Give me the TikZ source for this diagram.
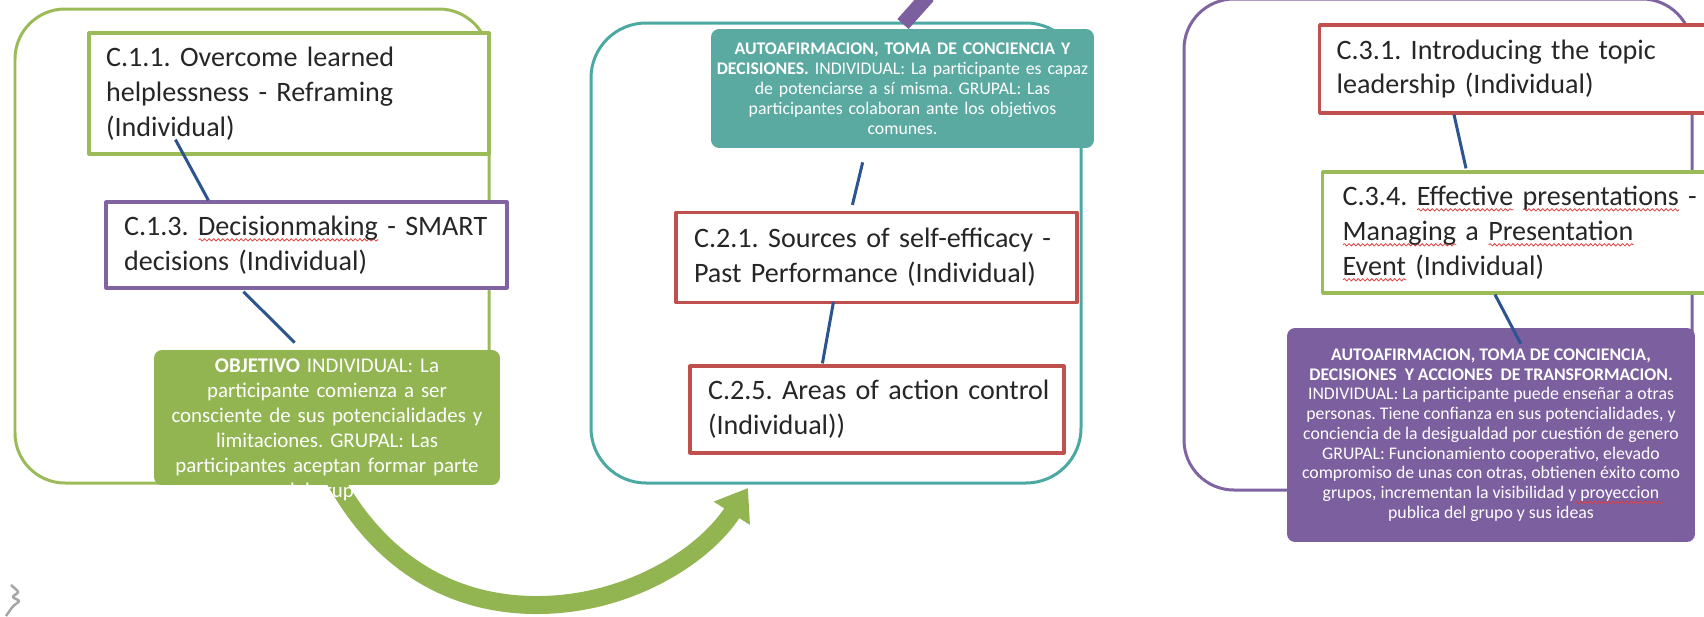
\documentclass[tikz,border=0pt]{standalone}
\usepackage{fontspec}
\setmainfont{Carlito}
\usetikzlibrary{arrows.meta, decorations.pathmorphing}
\frenchspacing

\definecolor{grnline}{HTML}{9BBB59}
\definecolor{grnfill}{HTML}{92B552}
\definecolor{tealline}{HTML}{4BA9A2}
\definecolor{tealfill}{HTML}{5AAAA1}
\definecolor{purpline}{HTML}{8064A2}
\definecolor{purpfill}{HTML}{7C5F9F}
\definecolor{redline}{HTML}{C0504D}
\definecolor{linkblue}{HTML}{2C5490}
\definecolor{inkgray}{HTML}{262626}
\definecolor{spellred}{HTML}{E04040}

% red spell-check wave under a word
\newsavebox{\spellbox}
\newcommand{\spellwave}[1]{\sbox{\spellbox}{#1}\leavevmode\rlap{\smash{\raisebox{-3.5pt}{\tikz\draw[spellred, fill=none, line width=0.45pt,
    decorate, decoration={snake, amplitude=0.7pt, segment length=2.6pt}] (0pt,0pt) -- (\wd\spellbox,0pt);}}}#1}

\begin{document}
\begin{tikzpicture}[
            x = 0.02cm, y = -0.02cm, % one unit = one pixel, y downwards
            > = {Triangle[width=0.82cm, length=0.6cm]}, % arrow head style
            line join = round
        ]

        \tikzstyle{frame}=[
            line width = 0.06cm,
            rounded corners = 1cm
        ]
        \tikzstyle{cbox}=[
            draw,
            fill = white,
            line width = 0.065cm,
            text = inkgray,
            align = left,
            inner ysep = 0pt,
            font = \fontsize{16}{19.9}\selectfont
        ]
        \tikzstyle{goal}=[
            fill,
            rounded corners = 0.16cm,
            text = white,
            align = center,
            inner xsep = 0.05cm,
            inner ysep = 0pt
        ]
        \tikzstyle{link}=[
            draw = linkblue,
            line width = 0.06cm
        ]
        \tikzstyle{spell}=[
            draw = spellred,
            line width = 0.45pt,
            decorate,
            decoration = {snake, amplitude=0.7pt, segment length=2.6pt}
        ]

        \useasboundingbox (0,0) rectangle (1704,616);
        \clip (0,0) rectangle (1704,616);

        % frames of the three blocks
        \draw[frame, grnline] (15,9) rectangle (489,483);
        \draw[frame, tealline, rounded corners=1.1cm] (591,23) rectangle (1081,483);
        \draw[frame, purpline] (1184,-1) rectangle (1692,490);

        % purple arrow coming in from above
        \draw[purpfill, line width=0.3cm] (928,-4) -- (903,24);

        % big green arrow from block 1 to block 2
        \coordinate (arrowstart) at (335,480);
        \coordinate (arrowtip) at (748,488);
        \draw[->, grnfill, line width=0.36cm] (arrowstart) .. controls (385,570) and (460,606) .. (540,605)
            .. controls (630,604) and (705,555) .. (arrowtip);

        % block 1
        \node[cbox, draw=grnline, minimum width=8cm, minimum height=2.42cm, inner xsep=0.34cm, text width=7.32cm]
            (c11) at (289,93.5) {C.1.1. Overcome learned\\ helplessness - Reframing\\ (Individual)};
        \node[cbox, draw=purpline, minimum width=8.02cm, minimum height=1.72cm, inner xsep=0.36cm, text width=7.3cm]
            (c13) at (306.5,245) {C.1.3. \spellwave{Decisionmaking} - SMART\\ decisions (Individual)};
        \node[goal, fill=grnfill, minimum width=6.92cm, minimum height=2.7cm, text width=6.82cm,
            font=\fontsize{11.9}{14.2}\selectfont]
            (obj1) at (327,417.5) {\textbf{OBJETIVO} INDIVIDUAL: La\\ participante comienza a ser\\
            consciente de sus potencialidades y\\ limitaciones. GRUPAL: Las\\ participantes aceptan formar parte};
        \node[text=white, inner sep=0pt, font=\fontsize{11.9}{14.2}\selectfont] (obj1more) at (327,492) {del grupo.};

        % block 2
        \node[goal, fill=tealfill, minimum width=7.62cm, minimum height=2.38cm, text width=7.56cm,
            font=\fontsize{10.1}{11.4}\selectfont]
            (t2) at (902.5,88.5) {\textbf{AUTOAFIRMACION, TOMA DE CONCIENCIA Y}\\
            \textbf{DECISIONES.} INDIVIDUAL: La participante es capaz\\ de potenciarse a sí misma. GRUPAL: Las\\
            participantes colaboran ante los objetivos\\ comunes.};
        \node[cbox, draw=redline, minimum width=8.02cm, minimum height=1.8cm, inner xsep=0.36cm, text width=7.3cm]
            (c21) at (876.5,257.5) {\mbox{C.2.1. Sources of self-efficacy -}\\ Past Performance (Individual)};
        \node[cbox, draw=redline, minimum width=7.48cm, minimum height=1.74cm, inner xsep=0.36cm, text width=6.76cm]
            (c25) at (877,409.5) {\mbox{C.2.5. Areas of action control}\\ (Individual))};

        % block 3
        \node[cbox, draw=redline, anchor=west, minimum width=8.8cm, minimum height=1.76cm, inner xsep=0.34cm, text width=8.12cm]
            (c31) at (1318,69) {C.3.1. Introducing the topic\\ leadership (Individual)};
        \node[cbox, draw=grnline, anchor=west, minimum width=8.8cm, minimum height=2.42cm, inner xsep=0.4cm, text width=8cm]
            (c34) at (1321,232.5) {C.3.4. \spellwave{Effective} \spellwave{presentations} -\\
            \spellwave{Managing} a \spellwave{Presentation}\\ \spellwave{Event} (Individual)};
        \node[goal, fill=purpfill, minimum width=8.16cm, minimum height=4.28cm] (p3) at (1491,435) {};
        \node[text=white, inner sep=0pt, font=\fontsize{10.1}{11.24}\selectfont] (p3text) at (p3.center) {\parbox{8.1cm}{\centering
            \textbf{AUTOAFIRMACION, TOMA DE CONCIENCIA,}\\
            \textbf{DECISIONES~ Y ACCIONES~ DE TRANSFORMACION.}\\
            INDIVIDUAL: La participante puede enseñar a otras\\
            personas. Tiene confianza en sus potencialidades, y\\
            conciencia de la desigualdad por cuestión de genero\\
            GRUPAL: Funcionamiento cooperativo, elevado\\
            compromiso de unas con otras, obtienen éxito como\\
            grupos, incrementan la visibilidad y proyeccion\\
            publica del grupo y sus ideas}};
        \draw[spell] ([shift={(288,-40)}]p3.south west) -- ([shift={(376,-40)}]p3.south west);

        % links inside the blocks
        \draw[link] ([shift={(88,-16)}]c11.south west) -- ([shift={(104,0)}]c13.north west);
        \draw[link] ([shift={(139,2)}]c13.south west) -- ([shift={(141,-7)}]obj1.north west);
        \draw[link] ([shift={(152,14)}]t2.south west) -- ([shift={(178,-6)}]c21.north west);
        \draw[link] ([shift={(159,-2)}]c21.south west) -- ([shift={(134,-1)}]c25.north west);
        \draw[link] ([shift={(136,0)}]c31.south west) -- ([shift={(145,-2)}]c34.north west);
        \draw[link] ([shift={(174,0)}]c34.south west) -- ([shift={(234,16)}]p3.north west);

        % scrap of clip art in the corner
        \draw[gray!70, line width=0.05cm, rounded corners=0.04cm] (6,616) -- (13,606) -- (20,601) -- (12,597) -- (19,592) -- (11,585);
    \end{tikzpicture}
\end{document}
